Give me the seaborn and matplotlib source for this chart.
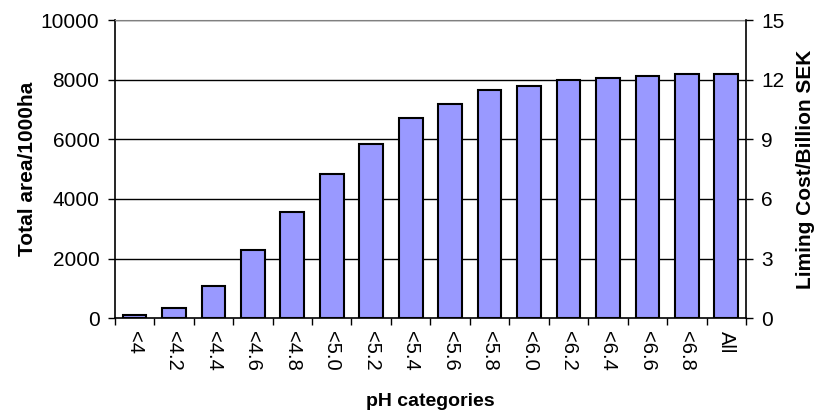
import matplotlib
matplotlib.use("Agg")
import matplotlib.pyplot as plt
import seaborn as sns
import pandas as pd

# Data
ph_categories = ["<4", "<4.2", "<4.4", "<4.6", "<4.8", "<5.0", "<5.2", "<5.4",
                 "<5.6", "<5.8", "<6.0", "<6.2", "<6.4", "<6.6", "<6.8", "All"]
total_area = [90, 336, 1070, 2300, 3565, 4830, 5840, 6720,
              7190, 7660, 7785, 7985, 8045, 8120, 8200, 8200]
left_ticks = [0, 2000, 4000, 6000, 8000, 10000]
right_ticks = [0, 3, 6, 9, 12, 15]

sns.set_style("white")
plt.rcParams['font.family'] = ['Liberation Sans', 'DejaVu Sans']
plt.rcParams['text.color'] = 'black'
plt.rcParams['axes.labelcolor'] = 'black'
plt.rcParams['xtick.color'] = 'black'
plt.rcParams['ytick.color'] = 'black'

df = pd.DataFrame({"ph": ph_categories, "area": total_area})

fig = plt.figure(figsize=(8.14, 4.17), dpi=100)
ax = fig.add_axes([0.141, 0.237, 0.7755, 0.715])

sns.barplot(data=df, x="ph", y="area", color="#9999FF", edgecolor="black",
            linewidth=1.5, width=0.6, saturation=1, ax=ax, zorder=3)

ax.set_ylim(0, 10000)
ax.set_xlim(-0.5, len(ph_categories) - 0.5)
ax.set_yticks(left_ticks)
ax.set_yticklabels([str(t) for t in left_ticks], fontsize=15)
for t in left_ticks[1:]:
    ax.axhline(t, color="black", linewidth=1, zorder=1)

ax.set_xticks(range(len(ph_categories)))
ax.set_xticklabels(ph_categories, rotation=270, fontsize=14.5)
ax.tick_params(axis="x", length=0, pad=9)
# tick marks between categories
ax.set_xticks([i - 0.5 for i in range(len(ph_categories) + 1)], minor=True)
ax.tick_params(axis="x", which="minor", length=5, width=1, direction="out", color="black", bottom=True)
ax.tick_params(axis="y", length=5, width=1, direction="out", color="black", left=True, pad=6)

for side in ["left", "bottom"]:
    ax.spines[side].set_color("black")
    ax.spines[side].set_linewidth(1.2)
ax.spines["top"].set_color("#808080")
ax.spines["right"].set_visible(False)

ax.set_xlabel("pH categories", fontsize=14, fontweight="bold", labelpad=16)
ax.set_ylabel("Total area/1000ha", fontsize=15, fontweight="bold", labelpad=3)

ax2 = ax.twinx()
ax2.set_ylim(0, 15)
ax2.set_yticks(right_ticks)
ax2.set_yticklabels([str(t) for t in right_ticks], fontsize=15)
ax2.tick_params(axis="y", length=5, width=1, direction="out", color="black", right=True, pad=6)
ax2.spines["right"].set_color("black")
ax2.spines["right"].set_linewidth(1.2)
for side in ["left", "top", "bottom"]:
    ax2.spines[side].set_visible(False)
ax2.set_ylabel("Liming Cost/Billion SEK", fontsize=15, fontweight="bold", labelpad=8)

fig.savefig("out.png", dpi=100)
